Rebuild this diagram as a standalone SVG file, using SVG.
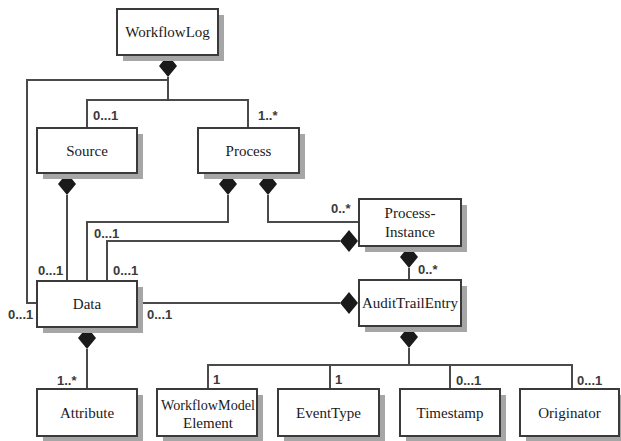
<svg xmlns="http://www.w3.org/2000/svg" width="621" height="441" viewBox="0 0 621 441">
  <style>
    .shadow { fill: #a6a6a6; }
    .box { fill: #ffffff; stroke: #3a3a3a; stroke-width: 2; }
    .name { font-family: 'Liberation Serif', 'DejaVu Serif', 'Times New Roman', serif; font-size: 15px; fill: #1a1a1a; text-anchor: middle; }
    .mult { font-family: 'Liberation Sans', Arial, sans-serif; font-size: 13px; font-weight: bold; fill: #3a3a3a; }
    .link { fill: none; stroke: #4a4a4a; stroke-width: 2; }
    .dia { fill: #1a1a1a; }
  </style>
  <defs>
    <!-- composition diamond, centred at origin -->
    <path id="diamond" d="M0,-11 L9,0 L0,11 L-9,0 Z"/>
  </defs>

  <!-- connectors -->
  <g id="connectors">
    <path class="link" d="M168,77 V100 M168,80 H27 V303 H37 M87,128 V100 H248 V128"/>
    <path class="link" d="M67,195 V281"/>
    <path class="link" d="M228,195 V222 H87 V281"/>
    <path class="link" d="M268,195 V222 H359"/>
    <path class="link" d="M340,241 H107 V281"/>
    <path class="link" d="M409,268 V280"/>
    <path class="link" d="M137,303 H340"/>
    <path class="link" d="M409,348 V365 M208,389 V365 H572 V389 M330,365 V389 M450,365 V389"/>
    <path class="link" d="M87,349 V389"/>

    <use href="#diamond" class="dia" x="168" y="66"/>
    <use href="#diamond" class="dia" x="67" y="184"/>
    <use href="#diamond" class="dia" x="228" y="184"/>
    <use href="#diamond" class="dia" x="268" y="184"/>
    <use href="#diamond" class="dia" x="349" y="241"/>
    <use href="#diamond" class="dia" x="409" y="257"/>
    <use href="#diamond" class="dia" x="349" y="303"/>
    <use href="#diamond" class="dia" x="409" y="337"/>
    <use href="#diamond" class="dia" x="87" y="338"/>

    <text class="mult" x="93" y="120">0...1</text>
    <text class="mult" x="258" y="120">1..*</text>
    <text class="mult" x="331" y="213">0..*</text>
    <text class="mult" x="418" y="274">0..*</text>
    <text class="mult" x="94" y="238">0...1</text>
    <text class="mult" x="38" y="275">0...1</text>
    <text class="mult" x="113" y="275">0...1</text>
    <text class="mult" x="8" y="319">0...1</text>
    <text class="mult" x="147" y="319">0...1</text>
    <text class="mult" x="57" y="385">1..*</text>
    <text class="mult" x="213" y="384">1</text>
    <text class="mult" x="335" y="384">1</text>
    <text class="mult" x="456" y="385">0...1</text>
    <text class="mult" x="577" y="385">0...1</text>
  </g>

  <g id="workflowlog">
    <rect class="shadow" x="123" y="15" width="101" height="46"/>
    <rect class="box" x="117" y="9" width="101" height="46"/>
    <text class="name" x="167.5" y="37">WorkflowLog</text>
  </g>

  <g id="source">
    <rect class="shadow" x="43" y="134" width="100" height="45"/>
    <rect class="box" x="37" y="128" width="100" height="45"/>
    <text class="name" x="87" y="156">Source</text>
  </g>

  <g id="process">
    <rect class="shadow" x="204" y="134" width="101" height="45"/>
    <rect class="box" x="198" y="128" width="101" height="45"/>
    <text class="name" x="248.5" y="156">Process</text>
  </g>

  <g id="process-instance">
    <rect class="shadow" x="365" y="205" width="102" height="47"/>
    <rect class="box" x="359" y="199" width="102" height="47"/>
    <text class="name" x="410" y="218">Process-</text>
    <text class="name" x="410" y="237">Instance</text>
  </g>

  <g id="data">
    <rect class="shadow" x="43" y="287" width="100" height="46"/>
    <rect class="box" x="37" y="281" width="100" height="46"/>
    <text class="name" x="87" y="309">Data</text>
  </g>

  <g id="audittrailentry">
    <rect class="shadow" x="365" y="286" width="102" height="46"/>
    <rect class="box" x="359" y="280" width="102" height="46"/>
    <text class="name" x="410" y="308">AuditTrailEntry</text>
  </g>

  <g id="attribute">
    <rect class="shadow" x="43" y="395" width="100" height="47"/>
    <rect class="box" x="37" y="389" width="100" height="47"/>
    <text class="name" x="87" y="418">Attribute</text>
  </g>

  <g id="workflowmodelelement">
    <rect class="shadow" x="163" y="395" width="100" height="47"/>
    <rect class="box" x="157" y="389" width="100" height="47"/>
    <text class="name" x="208" y="410" textLength="94" lengthAdjust="spacingAndGlyphs">WorkflowModel</text>
    <text class="name" x="208" y="428">Element</text>
  </g>

  <g id="eventtype">
    <rect class="shadow" x="284" y="395" width="101" height="47"/>
    <rect class="box" x="278" y="389" width="101" height="47"/>
    <text class="name" x="328.5" y="418">EventType</text>
  </g>

  <g id="timestamp">
    <rect class="shadow" x="406" y="395" width="100" height="47"/>
    <rect class="box" x="400" y="389" width="100" height="47"/>
    <text class="name" x="450" y="418">Timestamp</text>
  </g>

  <g id="originator">
    <rect class="shadow" x="526" y="395" width="100" height="47"/>
    <rect class="box" x="520" y="389" width="99" height="47"/>
    <text class="name" x="569.5" y="418">Originator</text>
  </g>
</svg>
